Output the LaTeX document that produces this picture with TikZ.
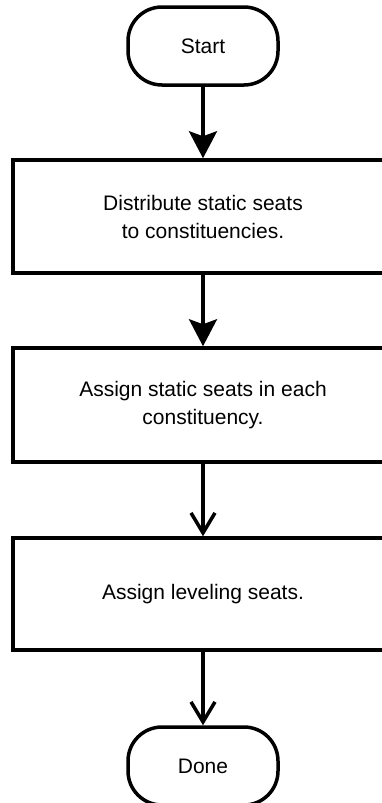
\documentclass[tikz,border=0pt]{standalone}
\usepackage{fontspec}
\setmainfont{Liberation Sans}
\usetikzlibrary{arrows.meta}
\begin{document}
\begin{tikzpicture}[x=1pt,y=-1pt,line width=3.5pt,
  font=\fontsize{21}{28}\selectfont,
  terminal/.style={draw,rounded corners=34pt,minimum width=150pt,minimum height=78pt},
  process/.style={draw,align=center,minimum width=380pt},
  solidhead/.style={-{Stealth[length=27pt,width=28pt,inset=5pt]}},
  openhead/.style={-{Straight Barb[length=20pt,width=24pt]}}]
\useasboundingbox (0,0) rectangle (382,803);

\node[terminal] (start) at (203,46) {Start};
\node[process,minimum height=113pt] (distribute) at (203,216.5) {Distribute static seats\\to constituencies.};
\node[process,minimum height=114pt] (assign) at (203,405) {Assign static seats in each\\constituency.};
\node[process,minimum height=112pt] (leveling) at (203,594) {Assign leveling seats.};
\node[terminal] (done) at (203,766) {Done};

\draw[solidhead] (start) -- (distribute);
\draw[solidhead] (distribute) -- (assign);
\draw[openhead] (assign) -- (leveling);
\draw[openhead] (leveling) -- (done);
\end{tikzpicture}
\end{document}
